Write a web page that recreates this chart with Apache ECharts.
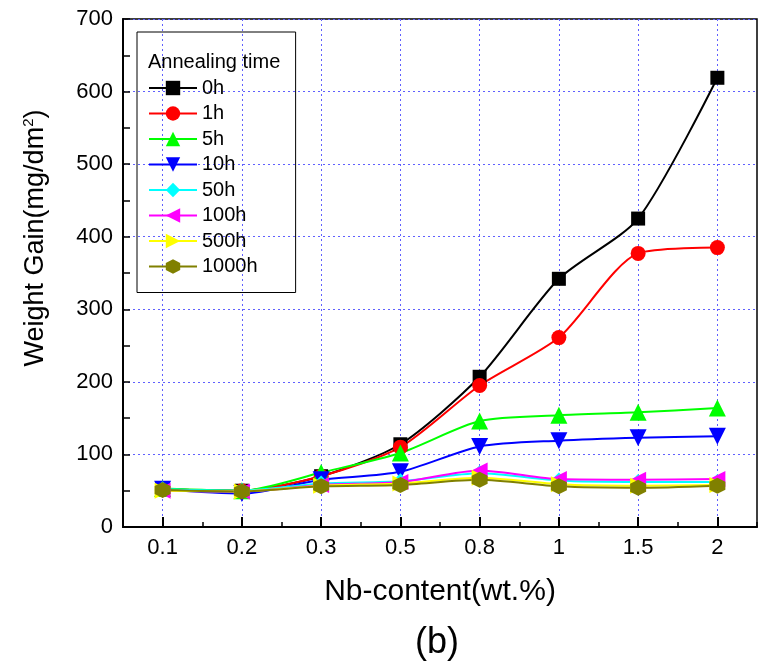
<!DOCTYPE html>
<html>
<head>
<meta charset="utf-8">
<script src="https://cdn.jsdelivr.net/npm/echarts@6/dist/echarts.min.js"></script>
<style>
  html, body { margin: 0; padding: 0; background: #fff; }
  #chart { width: 759px; height: 669px; }
</style>
</head>
<body>
<div id="chart"></div>
<script>
const categories = ['0.1', '0.2', '0.3', '0.5', '0.8', '1', '1.5', '2']

const gain0h = [52, 50, 70, 114, 207, 342, 425, 619]
const gain1h = [52, 50, 70, 110, 195, 261, 377, 385]
const gain5h = [53, 50, 75, 102, 146, 154, 158, 164]
const gain10h = [52, 46, 65, 76, 111, 119, 123, 125]
const gain50h = [52, 50, 60, 63, 74, 64, 62, 62]
const gain100h = [50, 49, 58, 62, 78, 66, 65, 66]
const gain500h = [50, 49, 57, 60, 68, 59, 57, 58]
const gain1000h = [51, 49, 56, 58, 65, 56, 54, 57]

const hexagon = 'path://M0,-10L8.66,-5L8.66,5L0,10L-8.66,5L-8.66,-5Z'

const seriesDefs = [
  { name: '0h', data: gain0h, color: '#000000', symbol: 'rect', size: 14, rotate: 0 },
  { name: '1h', data: gain1h, color: '#ff0000', symbol: 'circle', size: 15, rotate: 0 },
  { name: '5h', data: gain5h, color: '#00ff00', symbol: 'triangle', size: 17, rotate: 0 },
  { name: '10h', data: gain10h, color: '#0000ff', symbol: 'triangle', size: 17, rotate: 180 },
  { name: '50h', data: gain50h, color: '#00ffff', symbol: 'diamond', size: 16, rotate: 0 },
  { name: '100h', data: gain100h, color: '#ff00ff', symbol: 'triangle', size: 16, rotate: 90 },
  { name: '500h', data: gain500h, color: '#ffff00', symbol: 'triangle', size: 16, rotate: -90 },
  { name: '1000h', data: gain1000h, color: '#808000', symbol: hexagon, size: 16, rotate: 0 },
]

const font = 'Liberation Sans, Arial, sans-serif'
const gridColor = '#6060ff'

const chart = echarts.init(document.getElementById('chart'))

chart.setOption({
  animation: false,
  backgroundColor: '#fff',
  grid: {
    left: 123, right: 2, top: 19, bottom: 142,
    show: true, borderColor: '#000', borderWidth: 1.5,
  },
  title: [
    {
      text: 'Annealing time',
      left: 148, top: 52,
      padding: 0,
      textStyle: { fontFamily: font, fontSize: 20, fontWeight: 'normal', color: '#000' },
    },
    {
      text: '(b)',
      left: 415, top: 625,
      padding: 0,
      textStyle: { fontFamily: font, fontSize: 36, fontWeight: 'normal', color: '#000' },
    },
  ],
  legend: {
    orient: 'vertical',
    left: 137, top: 32,
    padding: [46, 38, 16, 11],
    borderColor: '#000',
    borderWidth: 1,
    itemWidth: 48,
    itemHeight: 18,
    itemGap: 5.5,
    itemTextGap: 6,
    textStyle: { fontFamily: font, fontSize: 20, color: '#000' },
    data: seriesDefs.map((d) => d.name),
  },
  xAxis: [
    {
      type: 'category',
      data: categories,
      boundaryGap: true,
      name: 'Nb-content(wt.%)',
      nameLocation: 'middle',
      nameGap: 50,
      nameTextStyle: { fontFamily: font, fontSize: 30, color: '#000' },
      axisLine: { lineStyle: { color: '#000', width: 2 } },
      axisTick: { show: true, inside: true, alignWithLabel: true, length: 10, lineStyle: { color: '#000', width: 2 } },
      axisLabel: { fontFamily: font, fontSize: 22, color: '#000', margin: 10 },
      splitLine: { show: true, alignWithLabel: true, lineStyle: { color: gridColor, type: [2, 3], width: 1 } },
    },
    {
      type: 'category',
      data: categories,
      boundaryGap: true,
      position: 'bottom',
      axisLine: { show: false },
      axisTick: { show: true, inside: true, length: 5, lineStyle: { color: '#000', width: 1.5 } },
      axisLabel: { show: false },
      splitLine: { show: false },
    },
  ],
  yAxis: {
    type: 'value',
    min: 0, max: 700, interval: 100,
    name: 'Weight Gain(mg/dm{sup|2})',
    nameLocation: 'middle',
    nameGap: 73,
    nameTextStyle: {
      fontFamily: font, fontSize: 27, color: '#000',
      padding: [0, 0, 0, 70],
      rich: { sup: { fontFamily: font, fontSize: 15, color: '#000', verticalAlign: 'top', padding: [0, 0, 14, 0] } },
    },
    axisLine: { show: true, lineStyle: { color: '#000', width: 2 } },
    axisTick: { show: true, inside: true, length: 7, lineStyle: { color: '#000', width: 1.5 } },
    minorTick: { show: true, splitNumber: 2, length: 7, lineStyle: { color: '#000', width: 1.5 } },
    axisLabel: { fontFamily: font, fontSize: 22, color: '#000', margin: 10 },
    splitLine: { show: true, lineStyle: { color: gridColor, type: [2, 3], width: 1 } },
  },
  series: seriesDefs.map((d) => ({
    name: d.name,
    type: 'line',
    xAxisIndex: 0,
    data: d.data,
    smooth: 0.25,
    symbol: d.symbol,
    symbolSize: d.size,
    symbolRotate: d.rotate,
    showAllSymbol: true,
    lineStyle: { color: d.color, width: 2 },
    itemStyle: { color: d.color, borderWidth: 0 },
  })),
})
</script>
</body>
</html>
